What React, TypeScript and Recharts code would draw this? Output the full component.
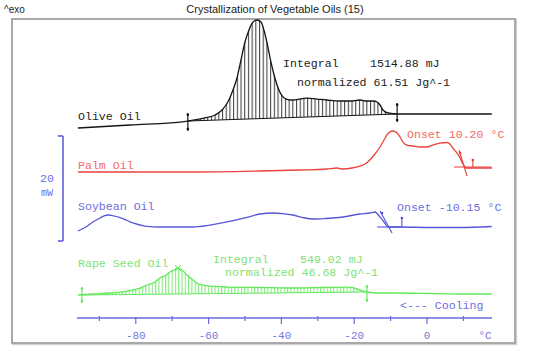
import React from 'react';
import { ComposedChart, Line, Area, XAxis, YAxis, ReferenceLine, ReferenceDot } from 'recharts';

// Temperatures in °C, heat flow in mW (curves offset vertically as in the original plot)
const xTicks = [-90, -80, -70, -60, -50, -40, -30, -20, -10, 0, 10];

const oliveT = [-95.9, -81.6, -65.7, -61.0, -58.2, -56.3, -54.7, -53.3, -52.2, -51.1, -50.0, -48.9, -47.8, -46.7, -45.6, -44.8, -44.0, -43.1, -42.0, -40.9, -39.8, -38.7, -37.1, -33.0, -30.2, -27.5, -23.9, -21.2, -18.4, -16.5, -14.8, -13.7, -12.9, -12.1, -10.7, -8.2, 0, 9.1, 17.8];
const oliveV = [36.19, 36.76, 37.52, 38.10, 38.67, 39.62, 41.14, 43.43, 45.71, 49.14, 52.57, 54.86, 56.38, 56.76, 56.38, 54.86, 52.57, 49.52, 46.29, 43.81, 42.29, 41.71, 41.52, 41.90, 41.71, 41.52, 41.33, 41.33, 41.52, 41.33, 41.33, 41.14, 40.57, 39.62, 39.05, 38.86, 38.86, 38.86, 38.86];
const oliveLimits = [{ t: -65.7, v: 37.52 }, { t: -8.2, v: 38.86 }];

const palmT = [-95.9, -81.6, -64.3, -45.9, -34.9, -27.5, -24.7, -23.1, -20.6, -18.4, -17.0, -15.7, -14.3, -12.9, -11.8, -11.0, -10.2, -9.6, -8.8, -8.2, -7.4, -6.6, -5.5, -3.8, -1.9, 0, 1.6, 3.6, 5.5, 6.3, 7.1, 8.2, 9.1, 9.9, 10.7, 11.8, 17.8];
const palmV = [27.81, 27.81, 27.81, 28.0, 28.19, 28.38, 28.57, 28.38, 28.57, 28.95, 29.33, 30.10, 31.24, 32.57, 33.90, 34.86, 35.43, 35.62, 35.52, 35.24, 34.48, 33.52, 32.95, 32.76, 32.57, 32.57, 32.95, 33.33, 33.43, 33.14, 32.38, 31.43, 30.48, 29.33, 28.57, 28.57, 28.57];

const soyT = [-95.9, -93.7, -91.8, -89.8, -88.5, -87.6, -86.5, -84.3, -82.4, -80.8, -77.5, -73.4, -64.3, -59.6, -54.9, -50.0, -45.9, -42.3, -39.6, -36.8, -34.1, -31.3, -28.0, -23.1, -18.4, -15.7, -14.3, -12.9, -11.8, -10.7, -7.4, 0.8, 9.1, 17.8];
const soyV = [16.57, 17.33, 18.29, 19.05, 19.52, 19.62, 19.52, 19.14, 18.57, 18.10, 17.52, 17.33, 17.33, 17.71, 18.29, 19.05, 19.81, 20.0, 19.90, 19.62, 19.14, 18.86, 18.95, 19.24, 19.81, 20.0, 20.19, 19.24, 18.29, 17.33, 17.33, 17.24, 17.24, 17.43];

const rapeT = [-95.9, -91.8, -87.1, -82.4, -78.8, -76.9, -74.7, -73.4, -72.0, -70.6, -69.5, -68.4, -67.3, -65.9, -64.6, -63.2, -61.8, -60.4, -54.9, -45.9, -36.8, -29.4, -22.0, -19.8, -18.4, -16.5, -12.9, -9.3, 0.8, 9.1, 17.8];
const rapeV = [4.38, 4.57, 4.76, 5.14, 5.71, 6.29, 6.86, 7.62, 8.0, 8.76, 9.14, 9.52, 9.14, 8.19, 7.43, 6.67, 6.29, 6.10, 5.90, 5.81, 5.71, 5.81, 5.90, 5.71, 5.33, 4.95, 4.76, 4.76, 4.67, 4.57, 4.57];
const rapeLimits = [{ t: -94.8, v: 4.38 }, { t: -16.5, v: 4.95 }];
const rapePeak = { t: -68.4, v: 9.52 };

const palmOnset = 10.2;
const soyOnset = -10.15;

const BLACK = '#141414';
const RED = '#e8423c';
const RED_T = '#f06a66';
const BLUE = '#5656dc';
const BLUE_T = '#6e6ee0';
const GREEN = '#62e85a';
const GREEN_T = '#7fe272';
const AXIS = '#6a6ade';

const toSeries = (ts: number[], vs: number[]) => ts.map((t, i) => ({ t, v: vs[i] }));

const hatchData = (ts: number[], vs: number[], lim: { t: number; v: number }[]) => {
  const [a, b] = lim;
  const base = (t: number) => a.v + ((b.v - a.v) * (t - a.t)) / (b.t - a.t);
  const pts = [{ t: a.t, r: [a.v, a.v] as [number, number] }];
  ts.forEach((t, i) => {
    if (t > a.t && t < b.t) pts.push({ t, r: [base(t), vs[i]] });
  });
  pts.push({ t: b.t, r: [b.v, b.v] });
  return pts;
};

const oliveData = toSeries(oliveT, oliveV);
const palmData = toSeries(palmT, palmV);
const soyData = toSeries(soyT, soyV);
const rapeData = toSeries(rapeT, rapeV);
const oliveHatch = hatchData(oliveT, oliveV, oliveLimits);
const rapeHatch = hatchData(rapeT, rapeV, rapeLimits);

const MONO = '"Liberation Mono", "DejaVu Sans Mono", monospace';
const SANS = '"Liberation Sans", Arial, sans-serif';

const AxisTick = (props: any) => {
  const { x, y, payload } = props;
  const v = payload.value as number;
  const major = v % 20 === 0;
  return (
    <g>
      <line x1={x} x2={x} y1={major ? y - 1 : y - 2} y2={major ? y + 6 : y + 3} stroke={AXIS} strokeWidth={1.2} />
      {major && (
        <text x={x} y={y + 18} textAnchor="middle" dominantBaseline="central" fontFamily={MONO} fontSize={11} fill="#7878d8">
          {v}
        </text>
      )}
    </g>
  );
};

const XMark = (props: any) => {
  const { cx, cy } = props;
  return <path d={`M${cx - 3},${cy - 3}L${cx + 3},${cy + 3}M${cx - 3},${cy + 3}L${cx + 3},${cy - 3}`} stroke={GREEN} strokeWidth={1} />;
};

const seg = (t1: number, v1: number, t2: number, v2: number) => [{ x: t1, y: v1 }, { x: t2, y: v2 }] as any;

const txt = (x: number, y: number, s: string, fill: string, extra: any = {}) => (
  <text x={x} y={y} fill={fill} fontFamily={MONO} fontSize={11.6} dominantBaseline="central" style={{ whiteSpace: 'pre' }} {...extra}>
    {s}
  </text>
);

export default function App() {
  return (
    <div style={{ position: 'absolute', left: 0, top: 0, width: 551, height: 360, background: '#fff' }}>
      <div style={{ position: 'absolute', left: 11, top: 18, width: 501, height: 322, border: '2px solid #a9a9a9', boxShadow: '1px 1px 1px #d0d0d0' }} />
      <div style={{ position: 'absolute', left: 0, top: 0 }}>
        <ComposedChart width={551} height={360} margin={{ top: 3, right: 59, bottom: 0, left: 77 }}>
          <defs>
            <pattern id="hatchBlack" width={3.7} height={6} patternUnits="userSpaceOnUse">
              <line x1={0.6} y1={0} x2={0.6} y2={6} stroke={BLACK} strokeWidth={0.9} />
            </pattern>
            <pattern id="hatchGreen" width={3.3} height={6} patternUnits="userSpaceOnUse">
              <line x1={0.6} y1={0} x2={0.6} y2={6} stroke={GREEN} strokeWidth={0.9} />
            </pattern>
          </defs>
          <XAxis
            dataKey="t"
            type="number"
            domain={[-96.15, 17.86]}
            allowDataOverflow
            ticks={xTicks}
            interval={0}
            height={42}
            tickSize={0}
            tickMargin={0}
            tickLine={false}
            axisLine={{ stroke: AXIS, strokeWidth: 1.5 }}
            tick={<AxisTick />}
          />
          <YAxis hide type="number" domain={[0, 60]} allowDataOverflow />

          <Area data={oliveHatch} dataKey="r" type="monotone" stroke="none" fill="url(#hatchBlack)" fillOpacity={1} isAnimationActive={false} />
          <Area data={rapeHatch} dataKey="r" type="monotone" stroke="none" fill="url(#hatchGreen)" fillOpacity={1} isAnimationActive={false} />

          <Line data={oliveData} dataKey="v" type="monotone" stroke={BLACK} strokeWidth={1.3} dot={false} isAnimationActive={false} />
          <Line data={palmData} dataKey="v" type="monotone" stroke={RED} strokeWidth={1.3} dot={false} isAnimationActive={false} />
          <Line data={soyData} dataKey="v" type="monotone" stroke={BLUE} strokeWidth={1.3} dot={false} isAnimationActive={false} />
          <Line data={rapeData} dataKey="v" type="monotone" stroke={GREEN} strokeWidth={1.3} dot={false} isAnimationActive={false} />

          {/* integration baselines */}
          <ReferenceLine segment={seg(oliveLimits[0].t, oliveLimits[0].v, oliveLimits[1].t, oliveLimits[1].v)} stroke={BLACK} strokeWidth={1} />
          <ReferenceLine segment={seg(rapeLimits[0].t, rapeLimits[0].v, rapeLimits[1].t, rapeLimits[1].v)} stroke={GREEN} strokeWidth={1} />
          {/* integration limit markers */}
          <ReferenceLine segment={seg(-65.7, 39.05, -65.7, 35.62)} stroke={BLACK} strokeWidth={1.2} />
          <ReferenceLine segment={seg(-8.2, 40.95, -8.2, 37.33)} stroke={BLACK} strokeWidth={1.2} />
          <ReferenceLine segment={seg(-94.8, 5.9, -94.8, 2.86)} stroke={GREEN} strokeWidth={1.2} />
          <ReferenceLine segment={seg(-16.5, 6.29, -16.5, 3.05)} stroke={GREEN} strokeWidth={1.2} />
          <ReferenceDot x={-65.7} y={38.7} r={1.3} fill={BLACK} stroke="none" />
          <ReferenceDot x={-65.7} y={36.0} r={1.3} fill={BLACK} stroke="none" />
          <ReferenceDot x={-8.2} y={40.6} r={1.3} fill={BLACK} stroke="none" />
          <ReferenceDot x={-8.2} y={37.7} r={1.3} fill={BLACK} stroke="none" />
          <ReferenceDot x={-94.8} y={5.6} r={1.2} fill={GREEN} stroke="none" />
          <ReferenceDot x={-94.8} y={3.2} r={1.2} fill={GREEN} stroke="none" />
          <ReferenceDot x={-16.5} y={6.0} r={1.2} fill={GREEN} stroke="none" />
          <ReferenceDot x={-16.5} y={3.4} r={1.2} fill={GREEN} stroke="none" />
          <ReferenceDot x={rapePeak.t} y={rapePeak.v} shape={<XMark />} />

          {/* palm onset construction */}
          <ReferenceLine segment={seg(8.8, 32.0, 11.0, 27.05)} stroke={RED} strokeWidth={1.1} />
          <ReferenceLine segment={seg(7.4, 28.76, 17.8, 28.76)} stroke={RED} strokeWidth={1.1} />
          <ReferenceLine segment={seg(12.6, 30.1, 12.6, 28.76)} stroke={RED} strokeWidth={1.1} />
          <ReferenceDot x={12.6} y={30.1} r={1.3} fill={RED} stroke="none" />
          <ReferenceDot x={palmOnset - 1.1} y={31.43} r={1.3} fill={RED} stroke="none" />

          {/* soybean onset construction */}
          <ReferenceLine segment={seg(-12.9, 20.38, -9.6, 16.19)} stroke={BLUE} strokeWidth={1.1} />
          <ReferenceLine segment={seg(-13.7, 17.33, -7.0, 17.33)} stroke={BLUE} strokeWidth={1.1} />
          <ReferenceLine segment={seg(-6.9, 19.05, -6.9, 17.33)} stroke={BLUE} strokeWidth={1.1} />
          <ReferenceDot x={-6.9} y={19.05} r={1.3} fill={BLUE} stroke="none" />
          <ReferenceDot x={soyOnset - 2.2} y={20.0} r={1.3} fill={BLUE} stroke="none" />

          {/* 20 mW scale bar */}
          <ReferenceLine ifOverflow="visible" segment={seg(-100, 34.67, -100, 14.67)} stroke={BLUE} strokeWidth={1.5} />
          <ReferenceLine ifOverflow="visible" segment={seg(-101.4, 34.67, -100, 34.67)} stroke={BLUE} strokeWidth={1.5} />
          <ReferenceLine ifOverflow="visible" segment={seg(-101.4, 14.67, -100, 14.67)} stroke={BLUE} strokeWidth={1.5} />
        </ComposedChart>
      </div>
      <svg width={551} height={360} style={{ position: 'absolute', left: 0, top: 0, pointerEvents: 'none' }}>
        <text x={4} y={9} fontFamily={SANS} fontSize={10} fill="#222" dominantBaseline="central">^exo</text>
        <text x={275} y={9} fontFamily={SANS} fontSize={11} fill="#222" textAnchor="middle" dominantBaseline="central">
          Crystallization of Vegetable Oils (15)
        </text>
        {txt(78, 116, 'Olive Oil', '#222')}
        {txt(283, 63, 'Integral', '#222')}
        {txt(370, 63, '1514.88 mJ', '#222')}
        {txt(297, 82, 'normalized 61.51 Jg^-1', '#222')}
        {txt(78, 165, 'Palm Oil', RED_T)}
        {txt(407, 134, `Onset ${palmOnset.toFixed(2)} °C`, RED_T)}
        {txt(78, 206, 'Soybean Oil', BLUE_T)}
        {txt(397, 207, `Onset ${soyOnset.toFixed(2)} °C`, BLUE_T)}
        {txt(47, 178, '20', BLUE_T, { textAnchor: 'middle' })}
        {txt(47, 193, 'mW', BLUE_T, { textAnchor: 'middle', fontSize: 10 })}
        {txt(78, 263, 'Rape Seed Oil', GREEN_T)}
        {txt(213, 259, 'Integral', GREEN_T)}
        {txt(300, 259, '549.02 mJ', GREEN_T)}
        {txt(225, 272, 'normalized 46.68 Jg^-1', GREEN_T)}
        {txt(400, 305, '<--- Cooling', BLUE_T)}
        {txt(485, 336, '°C', '#7878d8', { textAnchor: 'middle', fontSize: 11 })}
      </svg>
    </div>
  );
}
